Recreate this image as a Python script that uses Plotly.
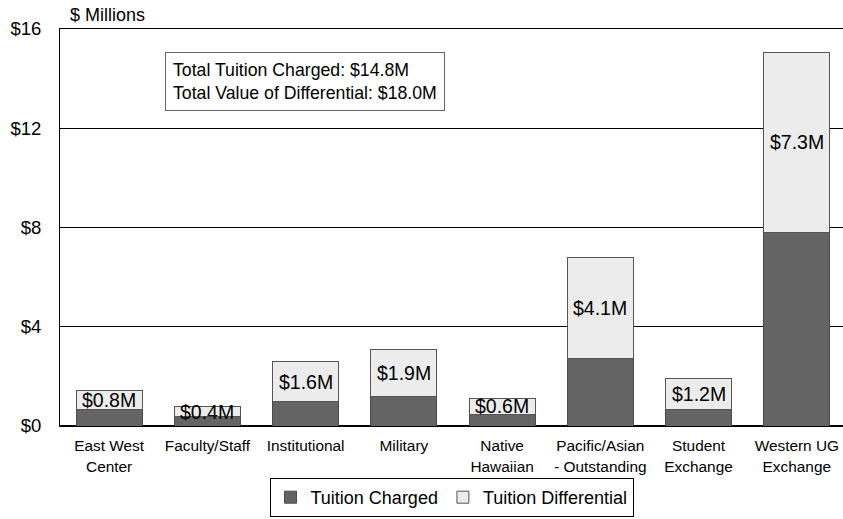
import plotly.graph_objects as go

categories = ["East West<br>Center", "Faculty/Staff", "Institutional", "Military",
              "Native<br>Hawaiian", "Pacific/Asian<br>- Outstanding", "Student<br>Exchange",
              "Western UG<br>Exchange"]
tuition_charged = [0.65, 0.37, 0.98, 1.19, 0.48, 2.73, 0.68, 7.80]
tuition_differential = [0.80, 0.42, 1.62, 1.90, 0.62, 4.08, 1.22, 7.27]
diff_labels = ["$0.8M", "$0.4M", "$1.6M", "$1.9M", "$0.6M", "$4.1M", "$1.2M", "$7.3M"]
y_ticks = [0, 4, 8, 12, 16]
y_tick_labels = ["$0", "$4", "$8", "$12", "$16"]
summary_lines = ["Total Tuition Charged: $14.8M", "Total Value of Differential: $18.0M"]

FONT = "Liberation Sans, Arial, sans-serif"
W, H = 843, 519
ML, MT, MB = 60, 29, 93
PW = W - ML
PH = H - MT - MB

fig = go.Figure()
fig.add_trace(go.Bar(
    x=categories, y=tuition_charged, name="Tuition Charged",
    marker=dict(color="#646464", line=dict(color="#4a4a4a", width=1)),
))
fig.add_trace(go.Bar(
    x=categories, y=tuition_differential, name="Tuition Differential",
    marker=dict(color="#ececec", line=dict(color="#555555", width=1)),
))

annotations = []
for c, base, d, lab in zip(categories, tuition_charged, tuition_differential, diff_labels):
    annotations.append(dict(
        x=c, y=base + d / 2, xref="x", yref="y", text=lab, showarrow=False,
        xanchor="center", yanchor="middle", font=dict(size=19.5, color="#000000", family=FONT),
    ))

annotations.append(dict(
    x=(165 - ML) / PW, y=(H - MB - 52) / PH, xref="paper", yref="paper",
    xanchor="left", yanchor="top", align="left", showarrow=False,
    text="<br>".join(summary_lines),
    font=dict(size=17.7, color="#000000", family=FONT),
    bordercolor="#666666", borderwidth=1, borderpad=7, bgcolor="#ffffff",
))
annotations.append(dict(
    x=(68 - ML) / PW, y=(H - MB - 15) / PH, xref="paper", yref="paper",
    xanchor="left", yanchor="middle", showarrow=False, text="$ Millions",
    font=dict(size=18, color="#000000", family=FONT),
))

fig.update_layout(
    width=W, height=H,
    margin=dict(l=ML, r=0, t=MT, b=MB, pad=0, autoexpand=False),
    barmode="stack", bargap=0.328,
    plot_bgcolor="#ffffff", paper_bgcolor="#ffffff",
    font=dict(family=FONT, color="#000000"),
    showlegend=True,
    legend=dict(
        orientation="h", x=0.5, xanchor="center",
        yref="container", y=2 / H, yanchor="bottom",
        bordercolor="#000000", borderwidth=1, bgcolor="#ffffff", traceorder="normal",
        font=dict(size=18, family=FONT, color="#000000"),
        itemwidth=30, tracegroupgap=0,
    ),
    annotations=annotations,
)
fig.update_xaxes(
    range=[-0.5, 7.47], showgrid=False, showline=True, mirror=True,
    linecolor="#000000", linewidth=1, automargin=False,
    ticks="", tickfont=dict(size=15.4, family=FONT, color="#000000"),
    ticklabelstandoff=6, fixedrange=True,
)
fig.update_yaxes(
    range=[0, 16], tickvals=y_ticks, ticktext=y_tick_labels,
    showgrid=True, gridcolor="#000000", gridwidth=1, automargin=False,
    showline=True, linecolor="#000000", linewidth=1, zeroline=True, zerolinecolor="#000000",
    ticks="", tickfont=dict(size=18.5, family=FONT, color="#000000"),
    ticklabelstandoff=14, fixedrange=True,
)

fig.write_html(
    "out.html",
    config={"displayModeBar": False},
    post_script="document.body.style.margin='0';document.body.style.overflow='hidden';",
)
